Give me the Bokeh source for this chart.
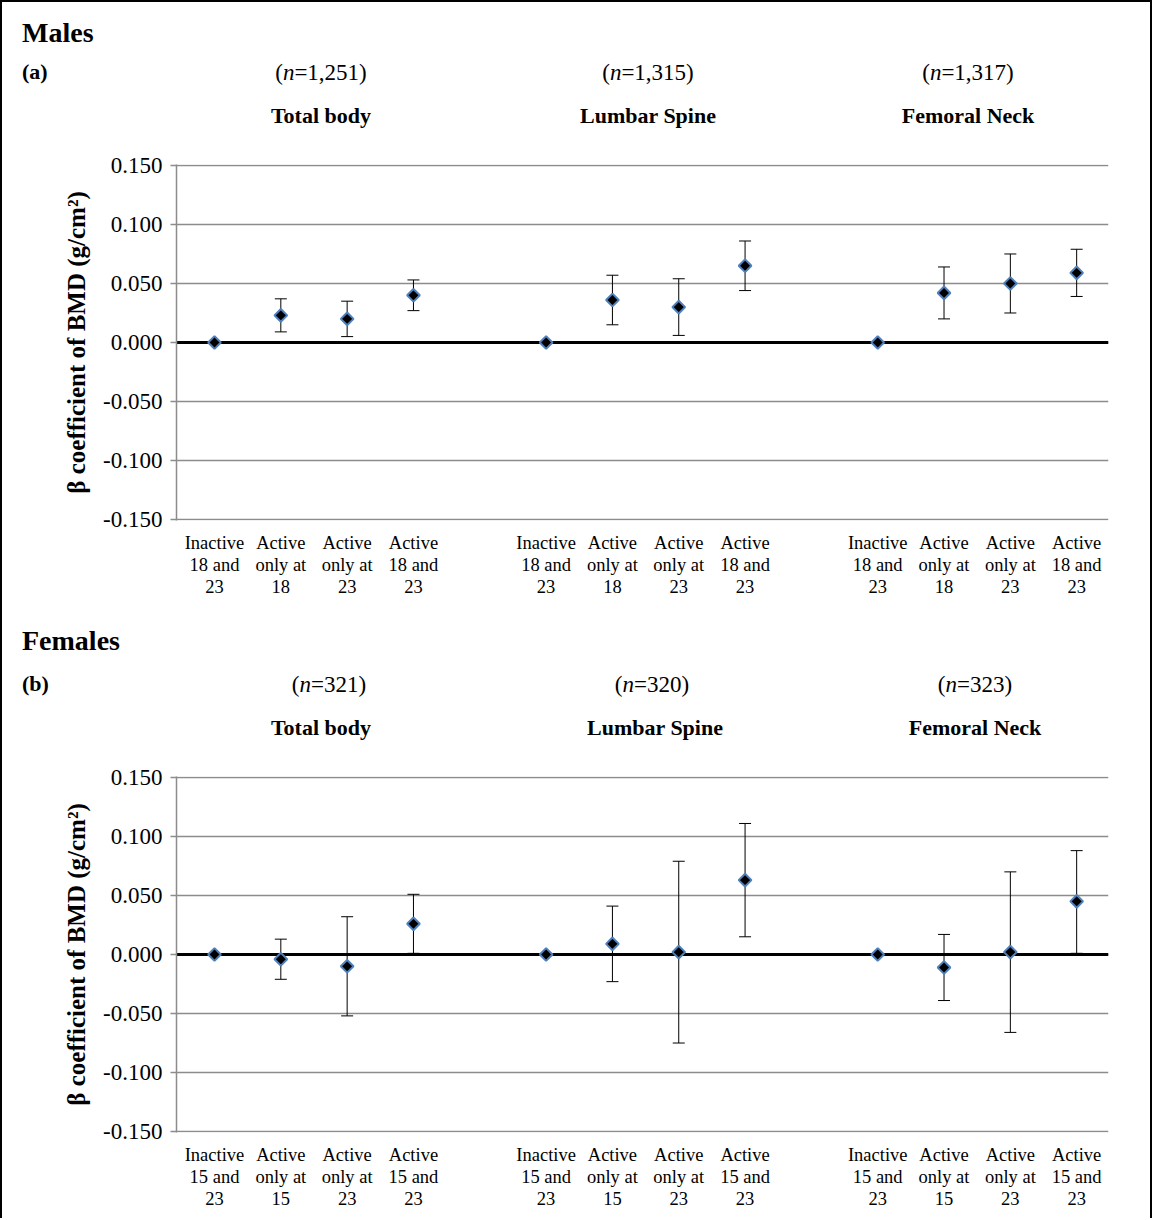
from bokeh.plotting import figure
from bokeh.models import (ColumnDataSource, Whisker, TeeHead, Span, Div,
                          FixedTicker, NumeralTickFormatter, Range1d)
from bokeh.layouts import column
from bokeh.embed import file_html
from bokeh.resources import INLINE
import math

# ---------------- data ----------------
sites = ["Total body", "Lumbar Spine", "Femoral Neck"]
x_positions = [0, 1, 2, 3, 5, 6, 7, 8, 10, 11, 12, 13]

male_n = ["1,251", "1,315", "1,317"]
female_n = ["321", "320", "323"]

male_groups = ["Inactive\n18 and\n23", "Active\nonly at\n18",
               "Active\nonly at\n23", "Active\n18 and\n23"]
female_groups = ["Inactive\n15 and\n23", "Active\nonly at\n15",
                 "Active\nonly at\n23", "Active\n15 and\n23"]

# Males: beta, lower CI, upper CI (Total body, Lumbar Spine, Femoral Neck)
male_tb_beta = [0.0, 0.023, 0.020, 0.040]
male_tb_lo = [0.0, 0.009, 0.005, 0.027]
male_tb_hi = [0.0, 0.037, 0.035, 0.053]
male_ls_beta = [0.0, 0.036, 0.030, 0.065]
male_ls_lo = [0.0, 0.015, 0.006, 0.044]
male_ls_hi = [0.0, 0.057, 0.054, 0.086]
male_fn_beta = [0.0, 0.042, 0.050, 0.059]
male_fn_lo = [0.0, 0.020, 0.025, 0.039]
male_fn_hi = [0.0, 0.064, 0.075, 0.079]

# Females
female_tb_beta = [0.0, -0.004, -0.010, 0.026]
female_tb_lo = [0.0, -0.021, -0.052, 0.001]
female_tb_hi = [0.0, 0.013, 0.032, 0.051]
female_ls_beta = [0.0, 0.009, 0.002, 0.063]
female_ls_lo = [0.0, -0.023, -0.075, 0.015]
female_ls_hi = [0.0, 0.041, 0.079, 0.111]
female_fn_beta = [0.0, -0.011, 0.002, 0.045]
female_fn_lo = [0.0, -0.039, -0.066, 0.001]
female_fn_hi = [0.0, 0.017, 0.070, 0.088]

y_ticks = [-0.15, -0.10, -0.05, 0.0, 0.05, 0.10, 0.15]

SERIF = "Liberation Serif"
GRID = "#8c8c8c"
BLUE = "#4F81BD"

FIG_W = 1148
FRAME_W, FRAME_H = 932, 356
X0, X1 = -0.573, 13.48
Y0, Y1 = -0.1508, 0.1508
LEFT_PAD = 174
HEAD_H = 150
TOP_PAD = 12


def make_header(sex_label, panel_label, ns, title_pos, n_pos, head_y):
    """Header band; positions in pixels from the band's top-left corner."""
    def span(x, y, inner, size, weight="normal", center=False):
        tx = "-50%" if center else "0"
        return (f'<span style="position:absolute;left:{x}px;top:{y}px;'
                f'transform:translate({tx},-50%);white-space:nowrap;'
                f'font-family:\'{SERIF}\';font-size:{size}px;font-weight:{weight};'
                f'line-height:1;color:black">{inner}</span>')

    parts = [span(20, head_y[0], sex_label, 28, "bold"),
             span(20, head_y[1], panel_label, 22, "bold")]
    for k in range(3):
        parts.append(span(n_pos[k][0], n_pos[k][1],
                          f"(<i>n</i>={ns[k]})", 23, center=True))
        parts.append(span(title_pos[k][0], title_pos[k][1], sites[k], 22,
                          "bold", center=True))
    html = (f'<div style="position:relative;width:{FIG_W}px;height:{HEAD_H}px;'
            f'background:white">' + "".join(parts) + "</div>")
    return Div(text=html, width=FIG_W, height=HEAD_H, margin=0)


def make_panel(bottom_pad, groups, betas, los, his):
    height = TOP_PAD + FRAME_H + bottom_pad
    p = figure(frame_width=FRAME_W, frame_height=FRAME_H, width=FIG_W, height=height,
               min_border_left=LEFT_PAD, min_border_right=FIG_W - LEFT_PAD - FRAME_W,
               min_border_top=TOP_PAD, min_border_bottom=bottom_pad,
               x_range=Range1d(X0, X1), y_range=Range1d(Y0, Y1),
               output_backend="svg", toolbar_location=None,
               background_fill_color="white", border_fill_color="white")
    p.outline_line_color = None
    p.xgrid.visible = False
    p.ygrid.ticker = FixedTicker(ticks=y_ticks)
    p.ygrid.grid_line_color = GRID
    p.ygrid.grid_line_width = 1.5

    ya = p.yaxis[0]
    ya.ticker = FixedTicker(ticks=y_ticks)
    ya.formatter = NumeralTickFormatter(format="0.000")
    ya.axis_line_color = GRID
    ya.axis_line_width = 1.5
    ya.major_tick_line_color = GRID
    ya.major_tick_line_width = 1.5
    ya.major_tick_out = 6
    ya.major_tick_in = 0
    ya.minor_tick_line_color = None
    ya.major_label_text_font = SERIF
    ya.major_label_text_font_size = "23px"
    ya.major_label_text_color = "black"
    ya.major_label_standoff = 8
    ya.axis_label = "β coefficient of BMD (g/cm²)"
    ya.axis_label_text_font = SERIF
    ya.axis_label_text_font_style = "bold"
    ya.axis_label_text_font_size = "25px"
    ya.axis_label_text_color = "black"
    ya.axis_label_standoff = 10

    xa = p.xaxis[0]
    xa.ticker = FixedTicker(ticks=x_positions)
    xa.major_label_overrides = {x: groups[i % 4] for i, x in enumerate(x_positions)}
    xa.axis_line_color = None
    xa.major_tick_line_color = None
    xa.minor_tick_line_color = None
    xa.major_label_text_font = SERIF
    xa.major_label_text_font_size = "18.5px"
    xa.major_label_text_color = "black"
    xa.major_label_text_line_height = 1.12
    xa.major_label_standoff = 6

    p.add_layout(Span(location=0, dimension="width", line_color="black",
                      line_width=3, level="underlay"))

    for k in range(3):
        xs = x_positions[4 * k:4 * k + 4]
        src = ColumnDataSource(dict(x=xs, y=betas[k]))
        ci = ColumnDataSource(dict(x=xs[1:], lo=los[k][1:], hi=his[k][1:]))
        p.add_layout(Whisker(source=ci, base="x", lower="lo", upper="hi",
                             line_color="black", line_width=1,
                             upper_head=TeeHead(size=12, line_color="black", line_width=1),
                             lower_head=TeeHead(size=12, line_color="black", line_width=1)))
        p.scatter("x", "y", source=src, marker="square", angle=math.pi / 4,
                  size=9, fill_color="black", line_color=BLUE, line_width=2)
    return p


h1 = make_header("Males", "(a)", male_n,
                 [(319, 114), (646, 114), (966, 114)],
                 [(319, 70), (646, 70), (966, 70)],
                 (31, 70))
p1 = make_panel(94, male_groups,
                [male_tb_beta, male_ls_beta, male_fn_beta],
                [male_tb_lo, male_ls_lo, male_fn_lo],
                [male_tb_hi, male_ls_hi, male_fn_hi])
h2 = make_header("Females", "(b)", female_n,
                 [(319, 114), (653, 114), (973, 114)],
                 [(327, 70), (650, 70), (973, 70)],
                 (27, 70))
p2 = make_panel(86, female_groups,
                [female_tb_beta, female_ls_beta, female_fn_beta],
                [female_tb_lo, female_ls_lo, female_fn_lo],
                [female_tb_hi, female_ls_hi, female_fn_hi])

layout = column(h1, p1, h2, p2, spacing=0,
                styles={"border-left": "2px solid black",
                        "border-top": "2px solid black",
                        "border-right": "2px solid black"})

open("out.html", "w").write(file_html(layout, INLINE))
